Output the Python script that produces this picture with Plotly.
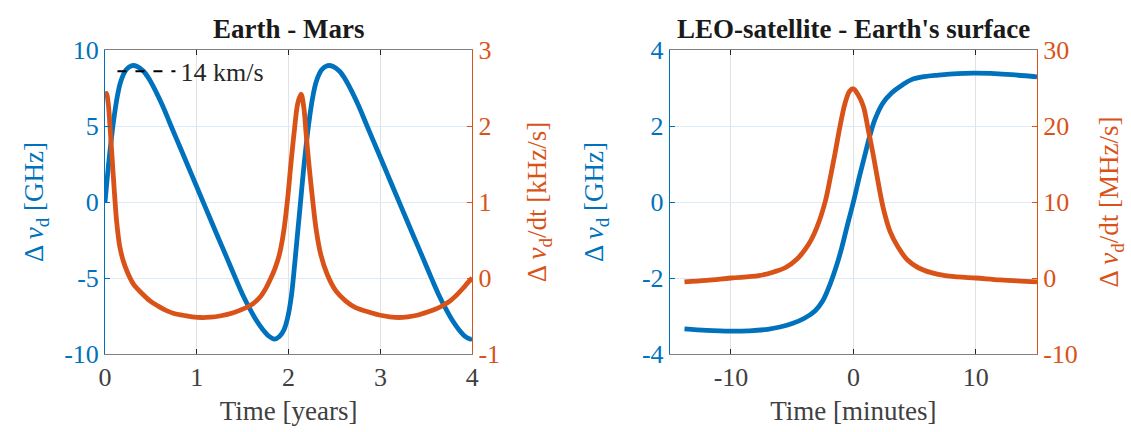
import plotly.graph_objects as go

FONT = "Liberation Serif"
BLUE = "#0072BD"
ORANGE = "#D95319"
TXT = "#404040"

# ---------------- Earth - Mars (time in years) ----------------
em_t_dnu = [0.0, 0.02, 0.04, 0.07, 0.096, 0.13, 0.17, 0.23, 0.295, 0.35,
            0.42, 0.49, 0.56, 0.63, 0.706, 0.78, 0.85, 0.94, 1.03, 1.13, 1.23, 1.33,
            1.43, 1.5, 1.575, 1.65, 1.72, 1.78, 1.846, 1.9, 1.95, 1.99, 2.03, 2.055,
            2.08, 2.105, 2.13, 2.15, 2.17, 2.2, 2.226, 2.26, 2.3, 2.36, 2.425, 2.485,
            2.555, 2.625, 2.695, 2.765, 2.841, 2.915, 2.985, 3.075, 3.165, 3.265, 3.365, 3.465,
            3.565, 3.635, 3.71, 3.785, 3.855, 3.915, 3.98, 4.0]
em_dnu_ghz = [0.0, 1.3, 2.55, 4.2, 5.45, 6.8, 7.9, 8.7, 8.97, 8.92,
              8.6, 8.0, 7.2, 6.3, 5.2, 4.14, 3.14, 1.85, 0.56, -0.87, -2.3, -3.71,
              -5.14, -6.1, -7.0, -7.8, -8.4, -8.8, -9.02, -8.85, -8.4, -7.6, -6.2, -4.8,
              -3.2, -1.6, 0.0, 1.3, 2.55, 4.2, 5.45, 6.8, 7.9, 8.7, 8.97, 8.92,
              8.6, 8.0, 7.2, 6.3, 5.2, 4.14, 3.14, 1.85, 0.56, -0.87, -2.3, -3.71,
              -5.14, -6.1, -7.0, -7.8, -8.4, -8.8, -9.02, -9.0]

em_t_rate = [0.0, 0.015, 0.035, 0.054, 0.072, 0.09, 0.11, 0.127, 0.16, 0.2, 0.25, 0.31,
             0.4, 0.49, 0.58, 0.67, 0.76, 0.85, 0.95, 1.05, 1.15, 1.25, 1.39, 1.5,
             1.61, 1.69, 1.755, 1.8, 1.85, 1.9, 1.945, 1.99, 2.025, 2.06, 2.1, 2.135,
             2.165, 2.19, 2.225, 2.26, 2.3, 2.35, 2.42, 2.515, 2.62, 2.73, 2.88, 3.0,
             3.1, 3.2, 3.3, 3.4, 3.53, 3.62, 3.69, 3.76, 3.83, 3.9, 3.95, 4.0]
em_rate_khz = [2.38, 2.43, 2.3, 2.0, 1.68, 1.35, 1.0, 0.74, 0.42, 0.22, 0.06, -0.08,
               -0.2, -0.30, -0.37, -0.43, -0.47, -0.49, -0.51, -0.52, -0.515, -0.50, -0.46, -0.41,
               -0.34, -0.25, -0.13, -0.02, 0.12, 0.31, 0.6, 1.05, 1.5, 1.91, 2.3, 2.42,
               2.25, 1.91, 1.45, 1.05, 0.64, 0.31, 0.05, -0.17, -0.3, -0.39, -0.45, -0.49,
               -0.51, -0.52, -0.51, -0.49, -0.44, -0.40, -0.355, -0.30, -0.225, -0.135, -0.065, 0.0]

# ---------------- LEO satellite - Earth's surface (time in minutes) ----------------
leo_t_dnu = [-13.8, -12.0, -10.0, -8.5, -7.0, -6.0, -5.0, -4.0, -3.12, -2.5, -1.9, -1.4,
             -0.95, -0.5, 0.0, 0.5, 0.95, 1.35, 1.77, 2.4, 3.12, 4.0, 4.75, 5.8,
             6.93, 8.5, 10.0, 12.5, 15.0]
leo_dnu_ghz = [-3.34, -3.38, -3.40, -3.39, -3.35, -3.29, -3.2, -3.06, -2.86, -2.6, -2.16, -1.7,
               -1.2, -0.62, 0.0, 0.68, 1.25, 1.75, 2.18, 2.6, 2.87, 3.08, 3.22, 3.3,
               3.34, 3.38, 3.39, 3.36, 3.29]

leo_t_rate = [-13.8, -12.0, -10.0, -7.74, -6.5, -5.57, -4.6, -3.67, -3.0, -2.31, -1.9, -1.49,
              -1.1, -0.68, -0.3, 0.0, 0.35, 0.81, 1.2, 1.63, 2.0, 2.44, 3.0, 3.67,
              4.4, 5.3, 6.93, 8.5, 10.0, 12.0, 15.0]
leo_rate_mhz = [-0.5, -0.3, 0.0, 0.3, 0.8, 1.35, 2.5, 4.4, 6.6, 10.0, 13.1, 16.5,
                19.9, 23.0, 24.6, 24.9, 24.2, 22.6, 19.6, 16.1, 12.8, 9.2, 6.1, 4.0,
                2.4, 1.35, 0.48, 0.15, 0.0, -0.25, -0.5]

# ---------------- tick values / labels ----------------
em_xticks = [0, 1, 2, 3, 4]
em_xlabels = ["0", "1", "2", "3", "4"]
em_yticks = [-10, -5, 0, 5, 10]
em_ylabels = ["-10", "-5", "0", "5", "10"]
em_y2ticks = [-1, 0, 1, 2, 3]
em_y2labels = ["-1", "0", "1", "2", "3"]
leo_xticks = [-10, 0, 10]
leo_xlabels = ["-10", "0", "10"]
leo_yticks = [-4, -2, 0, 2, 4]
leo_ylabels = ["-4", "-2", "0", "2", "4"]
leo_y2ticks = [-10, 0, 10, 20, 30]
leo_y2labels = ["-10", "0", "10", "20", "30"]

legend_label = "14 km/s"

LW = 4.8
SM = 1.0
fig = go.Figure()
fig.add_trace(go.Scatter(x=em_t_dnu, y=em_dnu_ghz, xaxis="x", yaxis="y", mode="lines",
                         line=dict(color=BLUE, width=LW, shape="spline", smoothing=SM),
                         showlegend=False))
fig.add_trace(go.Scatter(x=em_t_rate, y=em_rate_khz, xaxis="x", yaxis="y2", mode="lines",
                         line=dict(color=ORANGE, width=LW, shape="spline", smoothing=SM),
                         showlegend=False))
fig.add_trace(go.Scatter(x=leo_t_dnu, y=leo_dnu_ghz, xaxis="x2", yaxis="y3", mode="lines",
                         line=dict(color=BLUE, width=LW, shape="spline", smoothing=SM),
                         showlegend=False))
fig.add_trace(go.Scatter(x=leo_t_rate, y=leo_rate_mhz, xaxis="x2", yaxis="y4", mode="lines",
                         line=dict(color=ORANGE, width=LW, shape="spline", smoothing=SM),
                         showlegend=False))
# legend entry (dashed reference line)
fig.add_trace(go.Scatter(x=[None], y=[None], xaxis="x", yaxis="y", mode="lines",
                         line=dict(color="black", width=2, dash="dash"),
                         name=legend_label, showlegend=True))

tickfont = lambda c: dict(family=FONT, size=26, color=c)
titlefont = lambda c: dict(family=FONT, size=27, color=c)

def xax(domain, rng, tv, tt, title, anchor):
    return dict(domain=domain, range=rng, tickvals=tv, ticktext=tt, anchor=anchor,
                ticks="inside", ticklen=5, tickcolor="#262626", showline=True,
                linecolor="#808080", linewidth=1, mirror="ticks", showgrid=True,
                gridcolor="#E2E2E2", gridwidth=1, zeroline=False,
                tickfont=tickfont(TXT), title=dict(text=title, font=titlefont(TXT), standoff=9))

def yax(rng, tv, tt, title, color, anchor, side="left", overlaying=None, grid=True, standoff=10):
    d = dict(range=rng, tickvals=tv, ticktext=tt, anchor=anchor, side=side,
             ticks="inside", ticklen=5, tickcolor=color, showline=True, linecolor=color,
             linewidth=1, showgrid=grid, gridcolor="#DDEBF6", gridwidth=1, zeroline=False,
             tickfont=tickfont(color), title=dict(text=title, font=titlefont(color), standoff=standoff))
    if overlaying:
        d["overlaying"] = overlaying
    return d

dnu_title = "Δ <i>ν</i><sub>d</sub> [GHz]"
fig.update_layout(
    width=1131, height=432,
    margin=dict(l=105, r=92, t=50, b=75),
    paper_bgcolor="white", plot_bgcolor="white",
    font=dict(family=FONT, size=26, color=TXT),
    xaxis=xax([0, 0.394], [0, 4], em_xticks, em_xlabels, "Time [years]", "y"),
    yaxis=yax([-10, 10], em_yticks, em_ylabels, dnu_title, BLUE, "x", standoff=12),
    yaxis2=yax([-1, 3], em_y2ticks, em_y2labels, "Δ <i>ν</i><sub>d</sub>/dt [kHz/s]", ORANGE, "x",
               side="right", overlaying="y", grid=False, standoff=28),
    xaxis2=xax([0.606, 1], [-15, 15], leo_xticks, leo_xlabels, "Time [minutes]", "y3"),
    yaxis3=yax([-4, 4], leo_yticks, leo_ylabels, dnu_title, BLUE, "x2", standoff=30),
    yaxis4=yax([-10, 30], leo_y2ticks, leo_y2labels, "Δ <i>ν</i><sub>d</sub>/dt [MHz/s]", ORANGE, "x2",
               side="right", overlaying="y3", grid=False, standoff=22),
    showlegend=True,
    legend=dict(x=0.008, y=0.93, xanchor="left", yanchor="middle", bgcolor="rgba(0,0,0,0)",
                itemwidth=58,
                font=dict(family=FONT, size=26, color="#262626"), borderwidth=0),
    annotations=[
        dict(text="<b>Earth - Mars</b>", x=0.197, y=1, xref="paper", yref="paper",
             xanchor="center", yanchor="bottom", yshift=4, showarrow=False,
             font=dict(family=FONT, size=27, color="#1a1a1a")),
        dict(text="<b>LEO-satellite - Earth's surface</b>", x=0.803, y=1, xref="paper", yref="paper",
             xanchor="center", yanchor="bottom", yshift=4, showarrow=False,
             font=dict(family=FONT, size=27, color="#1a1a1a")),
    ],
)

fig.write_html("out.html")
